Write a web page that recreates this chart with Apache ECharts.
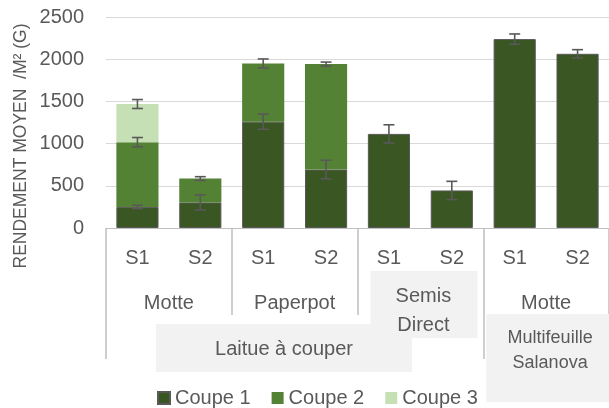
<!DOCTYPE html>
<html>
<head>
<meta charset="utf-8">
<script src="https://cdn.jsdelivr.net/npm/echarts@6/dist/echarts.min.js"></script>
<style>html,body{margin:0;padding:0;background:#fff;}#c{width:609px;height:408px;}</style>
</head>
<body>
<div id="c"></div>
<script>
const FONT = "'Liberation Sans', Arial, sans-serif";
const TXT = '#595959';

const categories = ['S1', 'S2', 'S1', 'S2', 'S1', 'S2', 'S1', 'S2'];
const groupLabels = ['Motte', 'Paperpot', 'Semis\nDirect', 'Motte'];
const outerLabels = ['Laitue à couper', 'Multifeuille\nSalanova'];
const seriesNames = ['Coupe 1', 'Coupe 2', 'Coupe 3'];
const yTicks = [0, 500, 1000, 1500, 2000, 2500];

const coupe1 = [250, 303, 1260, 693, 1115, 445, 2238, 2064];
const coupe2 = [767, 283, 690, 1249, null, null, null, null];
const coupe3 = [452, null, null, null, null, null, null, null];

const err1 = [20, 89, 90, 110, 108, 108, 61, 49];
const err2 = [55, 22, 53, 24, null, null, null, null];
const err3 = [53, null, null, null, null, null, null, null];

const colors = ['#3a5623', '#548235', '#c5e0b4'];

// error bar points at the cumulative top of each stacked segment
const errData = [];
const layers = [coupe1, coupe2, coupe3];
const errs = [err1, err2, err3];
for (let i = 0; i < categories.length; i++) {
  let cum = 0;
  for (let k = 0; k < layers.length; k++) {
    const v = layers[k][i];
    if (v == null) continue;
    cum += v;
    if (errs[k][i] != null) errData.push([i, cum, errs[k][i]]);
  }
}

const chart = echarts.init(document.getElementById('c'), null, {renderer: 'canvas'});

const option = {
  animation: false,
  textStyle: {fontFamily: FONT},
  color: colors,
  grid: {left: 106, right: -3, top: 17, bottom: 180, containLabel: false},
  legend: {
    data: seriesNames,
    left: 152, top: 383,
    itemWidth: 12, itemHeight: 12, itemGap: 21,
    textStyle: {fontFamily: FONT, fontSize: 20, color: TXT},
    icon: 'rect'
  },
  xAxis: [
    {
      type: 'category', data: categories, position: 'bottom',
      axisLine: {show: true, lineStyle: {color: '#bfbfbf', width: 1}},
      axisTick: {show: true, length: 87, interval: (i) => i % 2 === 0, lineStyle: {color: '#bfbfbf', width: 1.5}},
      axisLabel: {fontFamily: FONT, fontSize: 20, color: TXT, margin: 20, interval: 0}
    },
    {
      type: 'category', data: categories, position: 'bottom',
      axisLine: {show: false},
      axisTick: {show: true, length: 131, interval: (i) => i === 0 || i === 6, lineStyle: {color: '#bfbfbf', width: 1.5}},
      axisLabel: {show: false}
    }
  ],
  yAxis: {
    type: 'value', min: yTicks[0], max: yTicks[yTicks.length - 1], interval: yTicks[1] - yTicks[0],
    axisLine: {show: false}, axisTick: {show: false},
    axisLabel: {fontFamily: FONT, fontSize: 20, color: TXT, margin: 22, formatter: (v) => String(v)},
    splitLine: {lineStyle: {color: '#d9d9d9', width: 1}}
  },
  series: [
    {name: seriesNames[0], type: 'bar', stack: 'a', data: coupe1, barWidth: '67%',
     itemStyle: {color: colors[0], borderColor: '#595959', borderWidth: 1}},
    {name: seriesNames[1], type: 'bar', stack: 'a', data: coupe2, barWidth: '67%',
     itemStyle: {color: colors[1]}},
    {name: seriesNames[2], type: 'bar', stack: 'a', data: coupe3, barWidth: '67%',
     itemStyle: {color: colors[2]}},
    {
      type: 'custom', name: 'err', data: errData, z: 10,
      encode: {x: 0, y: 1},
      renderItem: function (params, api) {
        const x = api.value(0), y = api.value(1), e = api.value(2);
        const hi = api.coord([x, y + e]);
        const lo = api.coord([x, y - e]);
        const w = 5.5;
        const st = {stroke: '#595959', lineWidth: 1.6};
        return {
          type: 'group',
          children: [
            {type: 'line', shape: {x1: hi[0], y1: hi[1], x2: lo[0], y2: lo[1]}, style: st},
            {type: 'line', shape: {x1: hi[0] - w, y1: hi[1], x2: hi[0] + w, y2: hi[1]}, style: st},
            {type: 'line', shape: {x1: lo[0] - w, y1: lo[1], x2: lo[0] + w, y2: lo[1]}, style: st}
          ]
        };
      }
    }
  ]
};
chart.setOption(option);

// group / outer labels placed from the category axis
const px = (i) => chart.convertToPixel({xAxisIndex: 0}, i);
const catW = px(1) - px(0);
const graphics = [];
const txt = (text, x, y, size, lh) => ({
  type: 'text', x: x, y: y, z: 5,
  style: {text: text, fill: TXT, font: size + 'px ' + FONT, textAlign: 'center', textVerticalAlign: 'middle', lineHeight: lh || size}
});
const rect = (x, y, w, h) => ({type: 'rect', z: 1, shape: {x: x, y: y, width: w, height: h}, style: {fill: '#f2f2f2'}});

// boxes
graphics.push(rect(px(4) - catW / 2 + 13, 271, 107, 67));
graphics.push(rect(px(0) - catW / 2 + 50, 324, 256, 48));
graphics.push(rect(px(6) - catW / 2 + 3, 314, 130, 88));

for (let g = 0; g < groupLabels.length; g++) {
  const cx = (px(2 * g) + px(2 * g + 1)) / 2;
  if (g === 2) graphics.push(txt(groupLabels[g], cx + 3, 311, 20, 29));
  else graphics.push(txt(groupLabels[g], cx, 303, 20));
}
graphics.push(txt(outerLabels[0], px(0) - catW / 2 + 178, 349, 20));
graphics.push(txt(outerLabels[1], (px(6) + px(7)) / 2 + 4, 351, 18, 25));

graphics.push({
  type: 'text', x: 21, y: 146, rotation: Math.PI / 2,
  style: {text: 'RENDEMENT MOYEN  /M² (G)', fill: TXT, font: '17.5px ' + FONT, textAlign: 'center', textVerticalAlign: 'middle'}
});

chart.setOption({graphic: graphics});
</script>
</body>
</html>
